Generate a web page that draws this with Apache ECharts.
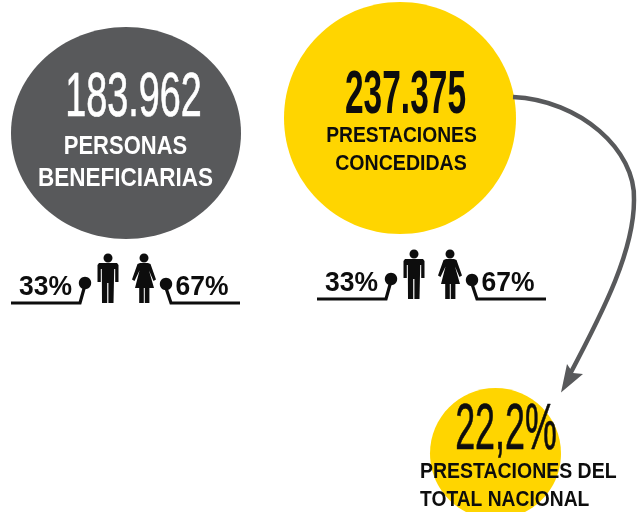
<!DOCTYPE html>
<html>
<head>
<meta charset="utf-8">
<style>
  html, body { margin: 0; padding: 0; background: #fff; }
  #main { width: 642px; height: 512px; }
</style>
<script src="https://cdn.jsdelivr.net/npm/echarts@6/dist/echarts.min.js"></script>
</head>
<body>
<div id="main"></div>
<script>
// values
var totals = ['183.962', '237.375', '22,2%'];
var captions = [['PERSONAS', 'BENEFICIARIAS'], ['PRESTACIONES', 'CONCEDIDAS'], ['PRESTACIONES DEL', 'TOTAL NACIONAL']];
var menShare = ['33%', '33%'];
var womenShare = ['67%', '67%'];

var GREY = '#58595b';
var YELLOW = '#ffd500';
var BLACK = '#0d0d0d';
var FONT = '"Liberation Sans", Arial, sans-serif';

// thick > 0 adds an outline in the text colour, the original type is heavier
function label(text, x, y, size, weight, color, scale, align, thick) {
    return {
        type: 'text', x: x, y: y, scaleX: scale,
        style: {
            text: text, x: 0, y: 0, fill: color,
            stroke: thick ? color : null, lineWidth: thick || 0,
            font: weight + ' ' + size + 'px ' + FONT,
            textAlign: align || 'center', textVerticalAlign: 'middle'
        }
    };
}

function disc(cx, cy, rx, ry, color) {
    return { type: 'ellipse', shape: { cx: cx, cy: cy, rx: rx, ry: ry }, style: { fill: color } };
}

function curve(x1, y1, cpx1, cpy1, cpx2, cpy2, x2, y2) {
    return {
        type: 'bezierCurve',
        shape: { x1: x1, y1: y1, cpx1: cpx1, cpy1: cpy1, cpx2: cpx2, cpy2: cpy2, x2: x2, y2: y2 },
        style: { stroke: GREY, lineWidth: 4.5, fill: null }
    };
}

// man + woman pictograms with the two leader lines, dx/dy shift the whole block
function people(dx, dy, men, women) {
    var man = [[99, 263], [117, 263], [118.5, 265], [118.5, 282], [115.2, 282], [115.2, 269], [114.2, 269],
        [113.5, 303], [108.4, 303], [108.4, 283], [107.2, 283], [107.2, 303], [102, 303], [101.8, 269],
        [100.8, 269], [100.8, 282], [97.5, 282], [97.5, 265]];
    var woman = [[140, 263], [148, 263], [150.5, 264], [156, 279.5], [153.5, 281], [149, 270.5], [154, 288], [149.4, 288],
        [149.4, 303], [144.8, 303], [144.8, 288], [143.8, 288], [143.8, 303], [139.2, 303], [139.2, 288], [135, 288],
        [139.5, 270.5], [134.5, 281], [132, 279.5], [137.5, 264]];
    var lineStyle = { stroke: BLACK, lineWidth: 3.2, fill: null };
    return {
        type: 'group', x: dx, y: dy,
        children: [
            disc(108, 258, 4.5, 4.5, BLACK),
            { type: 'polygon', shape: { points: man }, style: { fill: BLACK } },
            disc(144, 258, 4.5, 4.5, BLACK),
            { type: 'polygon', shape: { points: woman }, style: { fill: BLACK } },
            { type: 'polyline', shape: { points: [[11, 303], [80, 303], [85, 285]] }, style: lineStyle },
            disc(85, 283, 6.2, 6.2, BLACK),
            { type: 'polyline', shape: { points: [[240, 303], [171, 303], [165, 285]] }, style: lineStyle },
            disc(166, 284, 6.2, 6.2, BLACK),
            label(men, 45.5, 288, 27, 'bold', BLACK, 0.98),
            label(women, 202, 288, 27, 'bold', BLACK, 0.98)
        ]
    };
}

var elements = [
    disc(126, 133, 115, 106, GREY),
    disc(400, 118, 116, 116, YELLOW),
    disc(495.5, 453.5, 65.5, 65.5, YELLOW),

    // arrow from the yellow circle to the national share
    curve(513, 97, 580, 100, 636, 150, 634, 200),
    curve(634, 200, 634, 250, 605, 308, 569, 376),
    { type: 'polygon', shape: { points: [[561, 392.5], [567, 364], [573, 373], [583, 374]] }, style: { fill: GREY } },

    label(totals[0], 133.5, 99, 63, 'normal', '#fff', 0.6, 'center', 0.7),
    label(captions[0][0], 125.5, 147, 25, 'bold', '#fff', 0.88),
    label(captions[0][1], 125.5, 179, 25, 'bold', '#fff', 0.9),

    label(totals[1], 405.5, 96, 62, 'bold', BLACK, 0.54),
    label(captions[1][0], 401.5, 136, 22, 'bold', BLACK, 0.875),
    label(captions[1][1], 401, 164, 22, 'bold', BLACK, 0.89),

    label(totals[2], 506, 431, 64, 'normal', BLACK, 0.56, 'center', 0.7),
    label(captions[2][0], 420, 472, 22, 'bold', BLACK, 0.885, 'left'),
    label(captions[2][1], 420, 500, 22, 'bold', BLACK, 0.875, 'left'),

    people(0, 0, menShare[0], womenShare[0]),
    people(306, -4, menShare[1], womenShare[1])
];

var chart = echarts.init(document.getElementById('main'));
chart.setOption({
    backgroundColor: '#fff',
    graphic: { elements: elements }
});
</script>
</body>
</html>
